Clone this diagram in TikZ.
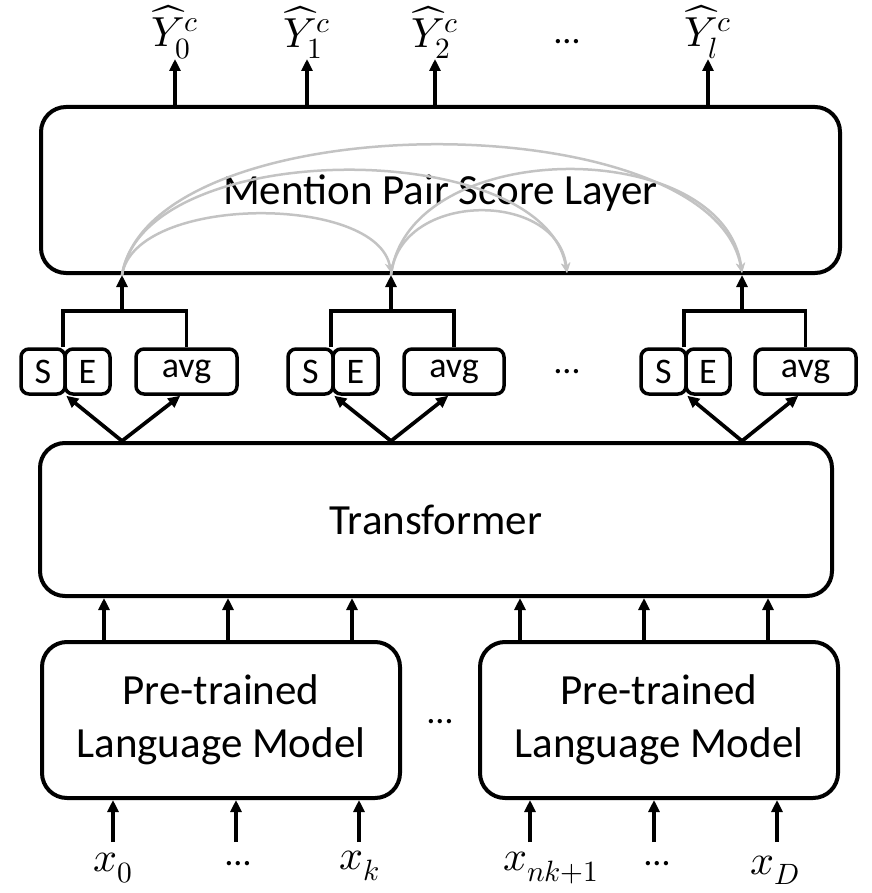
\documentclass[tikz,border=0pt]{standalone}
\usepackage{fontspec}
\usepackage{unicode-math}
\setmainfont{Carlito}
\setmathfont{Latin Modern Math}
\usetikzlibrary{arrows.meta,calc}
\definecolor{arcgray}{RGB}{195,195,195}
\begin{document}
\begin{tikzpicture}[x=1pt,y=-1pt,
  box/.style={draw, line width=4pt, rounded corners=25pt, inner sep=0pt, align=center, font=\fontsize{43}{53}\selectfont},
  sbox/.style={draw, line width=3.5pt, rounded corners=8pt, inner sep=0pt, minimum height=45pt, font=\fontsize{36}{40}\selectfont},
  arr/.style={line width=3.7pt, -{Triangle[length=12pt,width=11pt]}},
  ln/.style={line width=3.7pt},
  garr/.style={draw=arcgray, line width=2.5pt, -{Stealth[length=10pt,width=9pt]}},
  lbl/.style={inner sep=0pt, font=\fontsize{42}{48}\selectfont},
  dotsn/.style={inner sep=0pt, font=\fontsize{36}{40}\selectfont}]
\useasboundingbox (0,0) rectangle (871,893);

% main boxes
\node[box, minimum width=799pt, minimum height=166pt, text height=40pt, text depth=10pt] (mpsl) at (440.5,190) {Mention Pair Score Layer};
\node[box, minimum width=792pt, minimum height=153pt] (tr) at (436,519.5) {Transformer};
\node[box, minimum width=358pt, minimum height=156pt] (plm1) at (221,720) {Pre-trained\\Language Model};
\node[box, minimum width=358pt, minimum height=156pt] (plm2) at (659,720) {Pre-trained\\Language Model};

% small boxes
\node[sbox, minimum width=44pt] (s1) at (43,371.5) {S};
\node[sbox, minimum width=45pt] (e1) at (87.5,371.5) {E};
\node[sbox, minimum width=101pt] (a1) at (186.5,371.5) {avg};
\node[sbox, minimum width=45pt] (s2) at (310.5,371.5) {S};
\node[sbox, minimum width=45pt] (e2) at (355.5,371.5) {E};
\node[sbox, minimum width=100pt] (a2) at (454,371.5) {avg};
\node[sbox, minimum width=45pt] (s3) at (663.5,371.5) {S};
\node[sbox, minimum width=44pt] (e3) at (708,371.5) {E};
\node[sbox, minimum width=101pt] (a3) at (805.5,371.5) {avg};

% dots
\node[dotsn] (dtop) at (567,42) {…};
\node[dotsn] (dmid) at (567,372) {…};
\node[dotsn] (dplm) at (440,722) {…};
\node[dotsn] (dx1) at (238,864) {…};
\node[dotsn] (dx2) at (657,864) {…};

% output labels
\node[lbl, anchor=south] (y0) at (175,59) {$\widehat{Y}_0^c$};
\node[lbl, anchor=south] (y1) at (307,59) {$\widehat{Y}_1^c$};
\node[lbl, anchor=south] (y2) at (435,59) {$\widehat{Y}_2^c$};
\node[lbl, anchor=south] (yl) at (708,59) {$\widehat{Y}_l^c$};

% input labels
\node[lbl] (x0) at (113,868) {$x_0$};
\node[lbl] (xk) at (360,866) {$x_k$};
\node[lbl] (xn) at (551,868) {$x_{nk+1}$};
\node[lbl] (xD) at (775,870) {$x_D$};

% junction coordinates
\coordinate (j1) at (122,311);
\coordinate (j2) at (391,311);
\coordinate (j3) at (742,311);
\coordinate (m1) at (mpsl.south -| j1);
\coordinate (m2) at (mpsl.south -| j2);
\coordinate (m3) at (mpsl.south -| j3);
\coordinate (mm) at (mpsl.south -| dmid);

% gray arcs
\draw[garr] (m1) .. controls ($(m1)+(13,-81)$) and ($(m2)+(-13,-81)$) .. ([yshift=2pt]m2);
\draw[garr] (m1) .. controls ($(m1)+(22,-139)$) and ($(mm)+(-22,-139)$) .. ([yshift=2pt]mm);
\draw[garr] (m1) .. controls ($(m1)+(30,-173)$) and ($(m3)+(-30,-173)$) .. ([yshift=2pt]m3);
\draw[garr] (m2) .. controls ($(m2)+(9,-85)$) and ($(mm)+(-9,-85)$) .. ([yshift=2pt]mm);
\draw[garr] (m2) .. controls ($(m2)+(18,-140)$) and ($(m3)+(-18,-140)$) .. ([yshift=2pt]m3);

% outputs
\draw[arr] (mpsl.north -| y0) -- (y0.south);
\draw[arr] (mpsl.north -| y1) -- (y1.south);
\draw[arr] (mpsl.north -| y2) -- (y2.south);
\draw[arr] (mpsl.north -| yl) -- (yl.south);

% tree connectors
\draw[ln] (e1.north west) |- (j1) -| (a1.north);
\draw[ln] (e2.north west) |- (j2) -| (a2.north);
\draw[ln] (e3.north west) |- (j3) -| (a3.north);
\draw[arr] (j1) -- (m1);
\draw[arr] (j2) -- (m2);
\draw[arr] (j3) -- (m3);

% transformer to span boxes
\draw[arr] (tr.north -| j1) -- ([xshift=3pt]e1.south west);
\draw[arr] (tr.north -| j1) -- ([xshift=46pt]a1.south west);
\draw[arr] (tr.north -| j2) -- ([xshift=3pt]e2.south west);
\draw[arr] (tr.north -| j2) -- ([xshift=46pt]a2.south west);
\draw[arr] (tr.north -| j3) -- ([xshift=3pt]e3.south west);
\draw[arr] (tr.north -| j3) -- ([xshift=45pt]a3.south west);

% PLM to transformer
\foreach \x in {104,228,352} \draw[arr] (plm1.north -| \x,0) -- (tr.south -| \x,0);
\foreach \x in {520,644,768} \draw[arr] (plm2.north -| \x,0) -- (tr.south -| \x,0);

% inputs
\coordinate (i1) at (113,842);
\coordinate (i2) at (236,842);
\coordinate (i3) at (359,842);
\coordinate (i4) at (530,842);
\coordinate (i5) at (654,842);
\coordinate (i6) at (777,842);
\draw[arr] (i1) -- (i1 |- plm1.south);
\draw[arr] (i2) -- (i2 |- plm1.south);
\draw[arr] (i3) -- (i3 |- plm1.south);
\draw[arr] (i4) -- (i4 |- plm2.south);
\draw[arr] (i5) -- (i5 |- plm2.south);
\draw[arr] (i6) -- (i6 |- plm2.south);
\end{tikzpicture}
\end{document}
